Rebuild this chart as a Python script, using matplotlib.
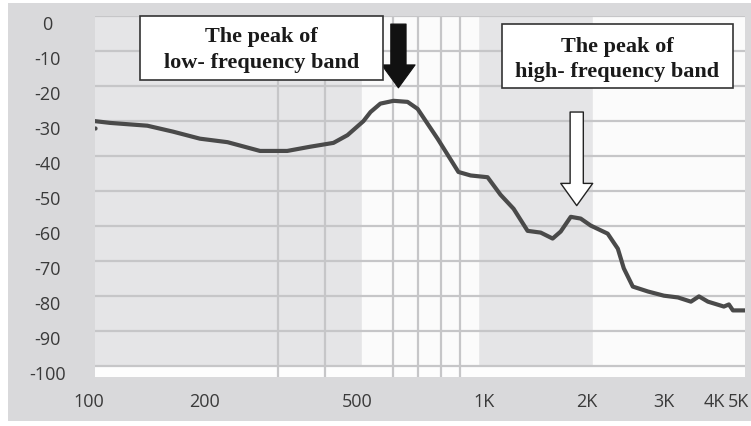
import numpy as np
import matplotlib.pyplot as plt
from matplotlib.patches import Rectangle
from matplotlib.transforms import ScaledTranslation

plt.rcParams['axes.unicode_minus'] = False

# frequency response (Hz, dB)
freq = [100, 109.5, 137, 160, 188, 222, 270, 318, 365, 420, 457, 503, 525, 557,
        603, 656, 697, 786, 891, 959, 1062, 1148, 1242, 1351, 1462, 1571, 1649,
        1752, 1860, 1976, 2188, 2326, 2411, 2545, 2787, 3069, 3339, 3611, 3790,
        4000, 4403, 4538, 4650, 4966]
level = [-30, -30.5, -31.3, -33, -35, -36, -38.5, -38.5, -37.3, -36.2, -34, -30,
         -27.4, -25, -24.2, -24.5, -26.5, -35, -44.5, -45.5, -46, -51, -55,
         -61.3, -61.8, -63.5, -61.5, -57.3, -57.8, -59.8, -62.1, -66.4, -72,
         -77.2, -78.6, -79.8, -80.3, -81.5, -80, -81.5, -82.9, -82.3, -84, -84]

x_ticks = [100, 200, 500, 1000, 2000, 3000, 4000, 5000]
x_labels = ['100', '200', '500', '1K', '2K', '3K', '4K', '5K']
x_grid = [200, 300, 400, 500, 600, 700, 800, 900, 1000, 2000, 3000, 4000]
y_ticks = list(range(0, -101, -10))

# small label nudges seen in the reference (pixels)
x_label_dx = [-6, -6, -5, 6, -6, 4, 6, -7]

W, H = 751, 427
fig = plt.figure(figsize=(W / 100, H / 100), dpi=100, facecolor='white')
fig.add_artist(Rectangle((8 / W, 1 - 422 / H), 1, (422 - 4) / H,
                         transform=fig.transFigure, fc='#d9d9db', ec='none', zorder=-1))

ax = fig.add_axes([95 / W, 1 - 378 / H, (745 - 95) / W, (378 - 17) / H])
ax.set_xscale('log')
ax.set_xlim(100, 5000)
ax.set_ylim(-103, 0)
ax.set_facecolor('#e5e5e7')

# bright bands
ax.axvspan(500, 1000, color='#fbfbfb', zorder=0)
ax.axvspan(2000, 5000, color='#fbfbfb', zorder=0)
ax.axhspan(-103, -100, color='#fdfdfd', zorder=0.5)

ax.set_xticks(x_ticks)
ax.set_xticklabels(x_labels)
ax.set_xticks(x_grid, minor=True)
ax.xaxis.set_minor_formatter(plt.NullFormatter())
ax.set_yticks(y_ticks)
ax.grid(which='minor', axis='x', color='#c6c6c8', lw=1.6, zorder=1)
ax.grid(which='major', axis='y', color='#c6c6c8', lw=1.6, zorder=1)
ax.grid(which='major', axis='x', visible=False)
ax.tick_params(which='both', length=0)
ax.tick_params(axis='x', pad=11, labelsize=13, labelcolor='#3a3a3a')
ax.tick_params(axis='y', pad=34.5, labelsize=13, labelcolor='#3a3a3a')
for s in ax.spines.values():
    s.set_visible(False)

fig.canvas.draw()
for lab in ax.get_yticklabels():
    lab.set_ha('center')
    lab.set_family(['Open Sans', 'DejaVu Sans'])
    lab.set_transform(lab.get_transform() + ScaledTranslation(0, -6 / 100, fig.dpi_scale_trans))
for lab, dx in zip(ax.get_xticklabels(), x_label_dx):
    lab.set_family(['Open Sans', 'DejaVu Sans'])
    lab.set_transform(lab.get_transform() + ScaledTranslation(dx / 100, 0, fig.dpi_scale_trans))

ax.plot(freq, level, color='#4a4a4a', lw=3, zorder=3, solid_joinstyle='round')
ax.plot([100], [-32], 'o', ms=2, color='#4a4a4a', zorder=3)

# arrows
ax.annotate('', xy=(621, -20.5), xytext=(621, -2.3),
            arrowprops=dict(arrowstyle='simple,head_length=1.65,head_width=2.4,tail_width=1.1',
                            mutation_scale=10, fc='#111111', ec='#111111', lw=0.8,
                            shrinkA=0, shrinkB=0), zorder=4)
ax.annotate('', xy=(1816, -54.1), xytext=(1816, -27.4),
            arrowprops=dict(arrowstyle='simple,head_length=1.6,head_width=2.3,tail_width=0.95',
                            mutation_scale=10, fc='white', ec='#222222', lw=1.0,
                            shrinkA=0, shrinkB=0), zorder=4)

# text boxes (pixel positions)
boxes = [((140, 17, 383, 81), ['The peak of', 'low- frequency band'], (37, 63)),
         ((502, 25, 733, 89), ['The peak of', 'high- frequency band'], (47, 72))]
for (x0, y0, x1, y1), lines, ys in boxes:
    fig.add_artist(Rectangle((x0 / W, 1 - y1 / H), (x1 - x0) / W, (y1 - y0) / H,
                             transform=fig.transFigure, fc='white', ec='#333333',
                             lw=1.2, zorder=5))
    for txt, yy in zip(lines, ys):
        fig.text((x0 + x1) / 2 / W, 1 - yy / H, txt, ha='center', va='center',
                 family='Liberation Serif', weight='bold', fontsize=16,
                 color='#1a1a1a', zorder=6)

fig.savefig('out.png', dpi=100, facecolor=fig.get_facecolor())
